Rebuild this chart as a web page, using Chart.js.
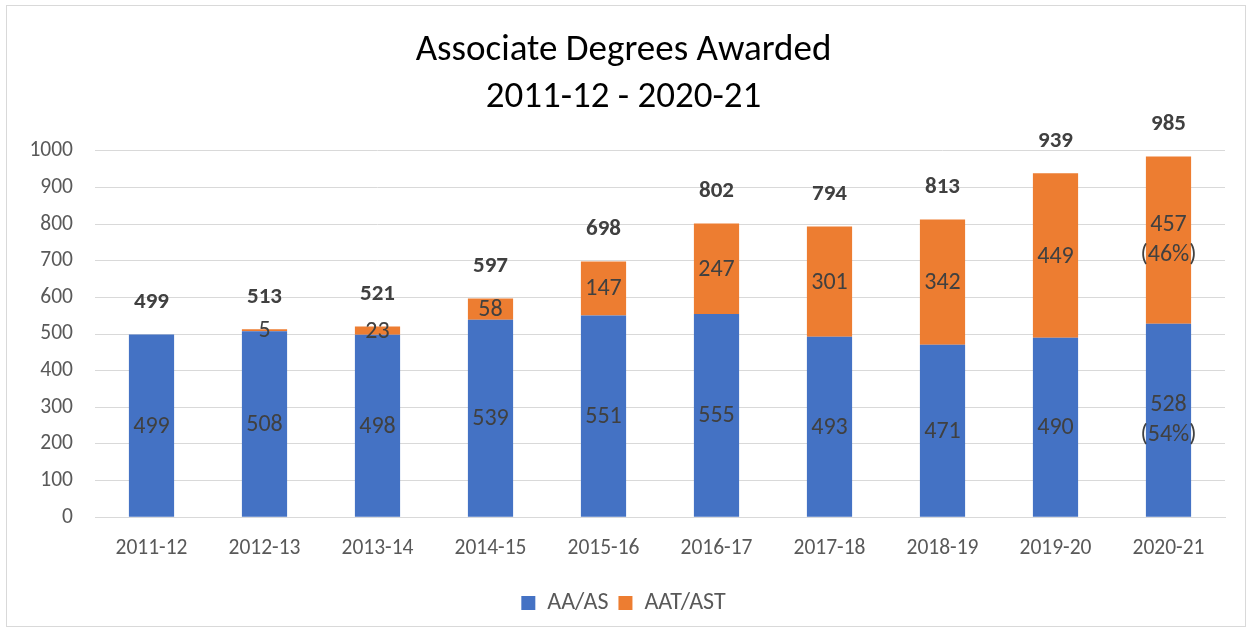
<!DOCTYPE html>
<html>
<head>
<meta charset="utf-8">
<script src="https://cdn.jsdelivr.net/npm/chart.js@4"></script>
<style>
    html, body { margin: 0; padding: 0; background: #fff; }
    .frame {
        position: absolute; left: 6px; top: 5px; width: 1240px; height: 622px;
        border: 1px solid #d9d9d9; box-sizing: border-box;
    }
    .wrap { position: absolute; left: 0; top: 0; width: 1253px; height: 635px; }
</style>
</head>
<body>
<div class="frame"></div>
<div class="wrap"><canvas id="degreesChart"></canvas></div>
<script>
// Data
const years = ['2011-12', '2012-13', '2013-14', '2014-15', '2015-16', '2016-17', '2017-18', '2018-19', '2019-20', '2020-21'];
const aaAs = [499, 508, 498, 539, 551, 555, 493, 471, 490, 528];
const aatAst = [0, 5, 23, 58, 147, 247, 301, 342, 449, 457];
const aaAsPct = [null, null, null, null, null, null, null, null, null, '(54%)'];
const aatAstPct = [null, null, null, null, null, null, null, null, null, '(46%)'];
const yTicks = [0, 100, 200, 300, 400, 500, 600, 700, 800, 900, 1000];

const FONT = 'Calibri, Carlito, Lato, sans-serif';
const textGrey = '#595959';
const labelGrey = '#404040';

// Draws segment values inside bars and totals above each stack
const barLabels = {
    id: 'barLabels',
    afterDatasetsDraw(chart) {
        const ctx = chart.ctx;
        const pcts = [aaAsPct, aatAstPct];
        ctx.save();
        ctx.textAlign = 'center';
        ctx.textBaseline = 'middle';
        ctx.fillStyle = labelGrey;
        ctx.font = '24px ' + FONT;
        chart.data.datasets.forEach((ds, di) => {
            const meta = chart.getDatasetMeta(di);
            meta.data.forEach((bar, i) => {
                const v = ds.data[i];
                if (!v) return;
                const mid = (bar.y + bar.base) / 2;
                const p = pcts[di][i];
                if (p) {
                    ctx.fillText(String(v), bar.x, mid - 15);
                    ctx.fillText(p, bar.x, mid + 15);
                } else {
                    ctx.fillText(String(v), bar.x, mid + 1);
                }
            });
        });
        // totals
        ctx.font = 'bold 23px ' + FONT;
        const yScale = chart.scales.y;
        const first = chart.getDatasetMeta(0);
        years.forEach((_, i) => {
            const total = aaAs[i] + aatAst[i];
            const y = yScale.getPixelForValue(total) - 32;
            ctx.fillText(String(total), first.data[i].x, y);
        });
        ctx.restore();
    }
};

new Chart(document.getElementById('degreesChart'), {
    type: 'bar',
    data: {
        labels: years,
        datasets: [
            { label: 'AA/AS', data: aaAs, backgroundColor: '#4472C4', borderWidth: 0 },
            { label: 'AAT/AST', data: aatAst, backgroundColor: '#ED7D31', borderWidth: 0 }
        ]
    },
    options: {
        responsive: true,
        maintainAspectRatio: false,
        animation: false,
        barPercentage: 0.8,
        categoryPercentage: 0.5,
        layout: { padding: { left: 22, right: 28, top: 0, bottom: 10 } },
        plugins: {
            title: {
                display: true,
                text: ['Associate Degrees Awarded', '2011-12 - 2020-21'],
                color: '#000',
                font: { family: FONT, size: 37, weight: 'normal', lineHeight: 1.27 },
                padding: { top: 27, bottom: 30 }
            },
            legend: {
                position: 'bottom',
                labels: {
                    color: textGrey,
                    font: { family: FONT, size: 24 },
                    boxWidth: 14,
                    boxHeight: 14,
                    padding: 10
                }
            },
            tooltip: { enabled: false }
        },
        scales: {
            x: {
                stacked: true,
                grid: { display: false, drawTicks: false },
                border: { color: '#d9d9d9', width: 1 },
                ticks: { color: textGrey, font: { family: FONT, size: 21.5 }, padding: 19, maxRotation: 0 }
            },
            y: {
                stacked: true,
                min: 0,
                max: 1000,
                afterBuildTicks: (scale) => { scale.ticks = yTicks.map(v => ({ value: v })); },
                afterFit: (scale) => { scale.width = 73; },
                grid: { color: '#d9d9d9', drawTicks: false },
                border: { display: false },
                ticks: {
                    color: textGrey,
                    font: { family: FONT, size: 21.5 },
                    padding: 22,
                    callback: (v) => String(v)
                }
            }
        }
    },
    plugins: [barLabels]
});
</script>
</body>
</html>
